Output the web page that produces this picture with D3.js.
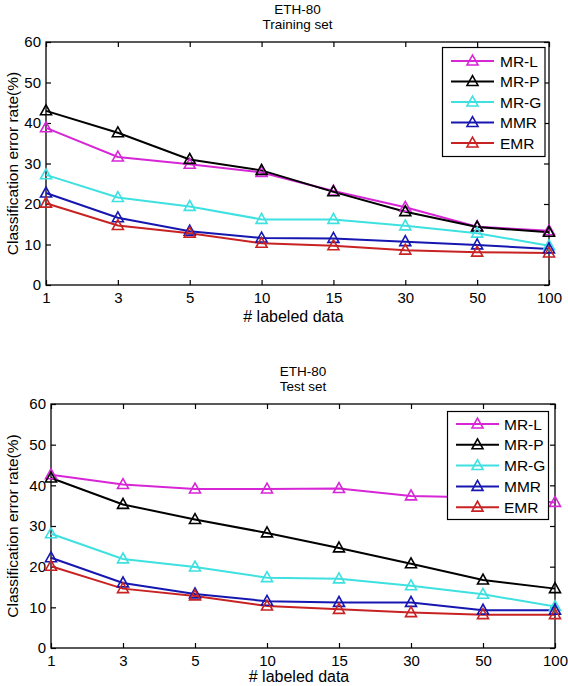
<!DOCTYPE html>
<html><head><meta charset="utf-8">
<script src="https://cdn.jsdelivr.net/npm/d3@7"></script>
<style>html,body{margin:0;padding:0;background:#fff;}svg{display:block;font-family:"Liberation Sans",Arial,sans-serif;}</style>
</head><body><svg id="c" width="568" height="686"></svg>
<script>
const categories = ["1","3","5","10","15","30","50","100"];
const yTicks = [0,10,20,30,40,50,60];
const seriesNames = ["MR-L","MR-P","MR-G","MMR","EMR"];
const seriesColors = ["#d626d6","#000000","#3ee0e0","#1616b0","#c82222"];
const titleLine1 = "ETH-80";
const trainTitle = "Training set";
const testTitle = "Test set";
const xLabel = "# labeled data";
const yLabel = "Classification error rate(%)";

const trainMRL = [38.8,31.6,29.8,27.8,23.2,19.2,14.4,13.4];
const trainMRP = [43.0,37.6,31.0,28.3,23.0,18.1,14.3,13.0];
const trainMRG = [27.2,21.6,19.4,16.2,16.2,14.6,12.8,9.7];
const trainMMR = [22.7,16.6,13.3,11.6,11.5,10.7,9.9,8.9];
const trainEMR = [20.2,14.7,12.8,10.3,9.7,8.6,8.1,7.9];

const testMRL = [42.6,40.2,39.1,39.1,39.2,37.4,37.0,35.8];
const testMRP = [41.8,35.3,31.6,28.3,24.6,20.7,16.7,14.6];
const testMRG = [28.1,21.9,19.9,17.3,17.0,15.3,13.2,10.2];
const testMMR = [22.2,16.0,13.3,11.5,11.2,11.2,9.3,9.3];
const testEMR = [20.1,14.6,12.8,10.3,9.5,8.7,8.2,8.2];

const svg = d3.select("#c");

function triPath(cx, cy, s) {
  const h = s*0.9;
  return `M${cx},${cy-h*0.6}L${cx+s/2},${cy+h*0.4}L${cx-s/2},${cy+h*0.4}Z`;
}

function drawPanel(cfg) {
  const {L,R,T,B,subtitle,data,leg,xlabOff} = cfg;
  const g = svg.append("g");
  const x = d3.scalePoint().domain(categories).range([L,R]).padding(0);
  const y = d3.scaleLinear().domain([0,60]).range([B,T]);
  const tk = 5;

  // titles
  const cx = (L+R)/2;
  g.append("text").attr("x",cx).attr("y",T-28.5).attr("text-anchor","middle").attr("font-size",13.5).text(titleLine1);
  g.append("text").attr("x",cx).attr("y",T-13).attr("text-anchor","middle").attr("font-size",13.5).text(subtitle);

  // axes
  const ax = g.append("g").attr("transform",`translate(0,${B})`)
    .call(d3.axisBottom(x).tickSizeInner(-tk).tickSizeOuter(0).tickPadding(7));
  const ay = g.append("g").attr("transform",`translate(${L},0)`)
    .call(d3.axisLeft(y).tickValues(yTicks).tickSizeInner(-tk).tickSizeOuter(0).tickPadding(5));
  const axt = g.append("g").attr("transform",`translate(0,${T})`)
    .call(d3.axisTop(x).tickSizeInner(-tk).tickSizeOuter(0).tickFormat(""));
  const ayr = g.append("g").attr("transform",`translate(${R},0)`)
    .call(d3.axisRight(y).tickValues(yTicks).tickSizeInner(-tk).tickSizeOuter(0).tickFormat(""));
  [ax,ay,axt,ayr].forEach(a=>{
    a.selectAll("path").attr("stroke","#000").attr("stroke-width",1.3);
    a.selectAll("line").attr("stroke","#000").attr("stroke-width",1.2);
    a.selectAll("text").attr("font-size",15).attr("fill","#000").attr("font-family","Liberation Sans, Arial, sans-serif");
  });
  ax.select(".domain").remove(); ay.select(".domain").remove();
  axt.select(".domain").remove(); ayr.select(".domain").remove();
  g.append("rect").attr("x",L).attr("y",T).attr("width",R-L).attr("height",B-T)
    .attr("fill","none").attr("stroke","#000").attr("stroke-width",1.3);

  // labels
  g.append("text").attr("x",(L+R)/2 - 4).attr("y",B+xlabOff).attr("text-anchor","middle").attr("font-size",16).text(xLabel);
  g.append("text").attr("transform",`translate(18,${(T+B)/2}) rotate(-90)`).attr("text-anchor","middle").attr("font-size",15.5).text(yLabel);

  // lines
  const line = d3.line().x((d,i)=>x(categories[i])).y(d=>y(d));
  data.forEach((vals,k)=>{
    g.append("path").datum(vals).attr("d",line).attr("fill","none")
      .attr("stroke",seriesColors[k]).attr("stroke-width",2);
  });
  data.forEach((vals,k)=>{
    g.selectAll(null).data(vals).enter().append("path")
      .attr("d",(d,i)=>triPath(x(categories[i]),y(d),11))
      .attr("fill","none").attr("stroke",seriesColors[k]).attr("stroke-width",1.6);
  });

  // legend
  const lg = g.append("g");
  lg.append("rect").attr("x",leg.x0).attr("y",leg.y0).attr("width",leg.x1-leg.x0).attr("height",leg.y1-leg.y0)
    .attr("fill","#fff").attr("stroke","#000").attr("stroke-width",1.2);
  seriesNames.forEach((nm,k)=>{
    const yy = leg.yFirst + k*leg.dy;
    lg.append("line").attr("x1",leg.lx0).attr("x2",leg.lx1).attr("y1",yy).attr("y2",yy)
      .attr("stroke",seriesColors[k]).attr("stroke-width",2);
    lg.append("path").attr("d",triPath((leg.lx0+leg.lx1)/2,yy,11)).attr("fill","none")
      .attr("stroke",seriesColors[k]).attr("stroke-width",1.6);
    lg.append("text").attr("x",leg.tx).attr("y",yy+5.5).attr("font-size",15.5).text(nm);
  });
}

drawPanel({L:46,R:549,T:42,B:285,subtitle:trainTitle,xlabOff:37,
  data:[trainMRL,trainMRP,trainMRG,trainMMR,trainEMR],
  leg:{x0:442.5,x1:545,y0:47.5,y1:156.5,yFirst:61,dy:20.5,lx0:451,lx1:494,tx:500}});
drawPanel({L:51,R:555,T:404,B:648,subtitle:testTitle,xlabOff:33.5,
  data:[testMRL,testMRP,testMRG,testMMR,testEMR],
  leg:{x0:447.5,x1:548.5,y0:411.5,y1:519.5,yFirst:424,dy:20.8,lx0:456,lx1:499,tx:504}});
</script></body></html>
